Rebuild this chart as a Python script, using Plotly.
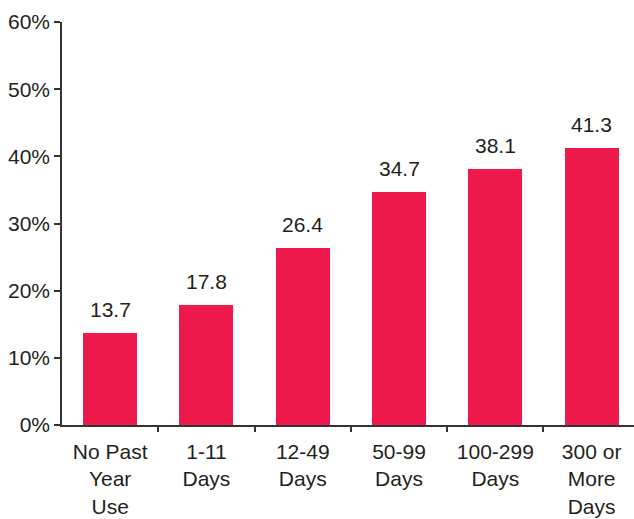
import plotly.graph_objects as go

categories = ["No Past<br>Year<br>Use", "1-11<br>Days", "12-49<br>Days",
              "50-99<br>Days", "100-299<br>Days", "300 or<br>More<br>Days"]
values = [13.7, 17.8, 26.4, 34.7, 38.1, 41.3]
y_ticks = [0, 10, 20, 30, 40, 50, 60]

bar_color = "#ED1A4B"
text_color = "#231F20"
axis_color = "#333333"
font_family = "Liberation Sans, Arial, sans-serif"

positions = list(range(len(categories)))
boundaries = [p + 0.5 for p in positions[:-1]]
x_range = [-0.5, 5.44]

fig = go.Figure()
fig.add_trace(go.Bar(
    x=positions,
    y=values,
    marker=dict(color=bar_color, line=dict(width=0)),
    width=0.56,
    hoverinfo="skip",
))

# value labels above each bar
for i, v in enumerate(values):
    fig.add_annotation(
        x=i, y=v, text=f"{v:.1f}", showarrow=False,
        yanchor="bottom", yshift=10,
        font=dict(size=21, color=text_color, family=font_family),
    )

fig.update_layout(
    width=634, height=519,
    margin=dict(l=62, r=0, t=22, b=94, autoexpand=False),
    paper_bgcolor="white", plot_bgcolor="white",
    showlegend=False,
    font=dict(family=font_family, size=21, color=text_color),
    bargap=0,
    # overlay axis carrying the tick marks between categories
    xaxis2=dict(
        overlaying="x", side="bottom", anchor="y",
        range=x_range, tickmode="array", tickvals=boundaries,
        ticks="outside", ticklen=6, tickwidth=1.5, tickcolor=axis_color,
        showticklabels=False, showline=False, showgrid=False, zeroline=False,
        automargin=False,
    ),
)
fig.layout.xaxis.update(
    type="linear",
    range=x_range,
    tickmode="array",
    tickvals=positions,
    ticktext=categories,
    ticks="",
    ticklabelstandoff=7,
    automargin=False,
    showline=True, linecolor=axis_color, linewidth=1.5,
    showgrid=False, zeroline=False,
    tickfont=dict(size=21, color=text_color),
)
fig.update_yaxes(
    range=[0, 60],
    tickmode="array",
    tickvals=y_ticks,
    ticktext=[f"{t}%" for t in y_ticks],
    ticks="outside", ticklen=6, tickwidth=1.5, tickcolor=axis_color,
    automargin=False,
    showline=True, linecolor=axis_color, linewidth=1.5,
    showgrid=False, zeroline=False,
    tickfont=dict(size=21, color=text_color),
)
# invisible trace so the overlay axis is drawn
fig.add_trace(go.Scatter(
    x=boundaries, y=[0] * len(boundaries), xaxis="x2", yaxis="y",
    mode="markers", marker=dict(opacity=0), hoverinfo="skip",
))

fig.write_html("out.html")
